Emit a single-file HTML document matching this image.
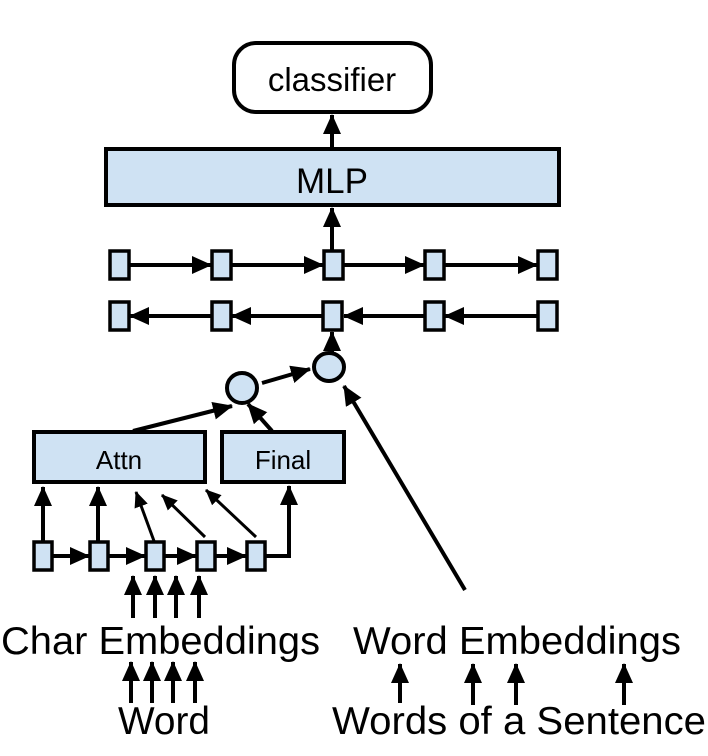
<!DOCTYPE html>
<html><head><style>body{margin:0;background:#fff}svg{display:block}</style></head>
<body>
<svg width="708" height="756" viewBox="0 0 708 756" xmlns="http://www.w3.org/2000/svg" font-family="Liberation Sans, Arial, sans-serif">
<defs>
<marker id="a" markerWidth="20" markerHeight="18" refX="19" refY="9" orient="auto" markerUnits="userSpaceOnUse"><path d="M0,0 L20,9 L0,18 z" fill="#000"/></marker>
<marker id="b" markerWidth="16" markerHeight="14" refX="15" refY="7" orient="auto" markerUnits="userSpaceOnUse"><path d="M0,0 L16,7 L0,14 z" fill="#000"/></marker>
</defs>
<g stroke="#000" stroke-width="4" fill="#cfe2f3">
<rect x="234" y="43" width="197" height="69" rx="22" fill="#fff"/>
<rect x="106" y="149" width="453" height="56"/>
<rect x="34" y="432" width="171" height="50"/>
<rect x="222" y="432" width="122" height="50"/>
<ellipse cx="242" cy="388" rx="15" ry="15"/>
<ellipse cx="329" cy="367" rx="15" ry="14"/>
<g stroke-width="3.5">
<rect x="110" y="251" width="19" height="28"/><rect x="212" y="251" width="19" height="28"/><rect x="324" y="251" width="19" height="28"/><rect x="425" y="251" width="19" height="28"/><rect x="538" y="251" width="19" height="28"/>
<rect x="110" y="302" width="19" height="28"/><rect x="212" y="302" width="19" height="28"/><rect x="323" y="302" width="19" height="28"/><rect x="425" y="302" width="19" height="28"/><rect x="538" y="302" width="19" height="28"/>
<rect x="34" y="542" width="18" height="28"/><rect x="90" y="542" width="18" height="28"/><rect x="146" y="542" width="18" height="28"/><rect x="197" y="542" width="18" height="28"/><rect x="247" y="542" width="18" height="28"/>
</g>
</g>
<g stroke="#000" stroke-width="4" fill="none" marker-end="url(#a)">
<line x1="332" y1="148" x2="332" y2="115"/>
<line x1="332" y1="250" x2="332" y2="208"/>
<line x1="129" y1="265" x2="211" y2="265"/><line x1="231" y1="265" x2="323" y2="265"/><line x1="343" y1="265" x2="424" y2="265"/><line x1="444" y1="265" x2="537" y2="265"/>
<line x1="538" y1="316" x2="445" y2="316"/><line x1="425" y1="316" x2="344" y2="316"/><line x1="323" y1="316" x2="232" y2="316"/><line x1="212" y1="316" x2="130" y2="316"/>
<line x1="332" y1="352" x2="332" y2="332"/>
<line x1="262" y1="383" x2="310" y2="369"/>
<line x1="133" y1="431" x2="232" y2="406"/>
<line x1="272" y1="431" x2="248" y2="404"/>
<line x1="465" y1="590" x2="344" y2="386"/>
<line x1="43" y1="541" x2="43" y2="487"/>
<line x1="98" y1="541" x2="98" y2="487"/>
<g marker-end="url(#b)" stroke-width="3">
<line x1="154" y1="541" x2="136" y2="492"/>
<line x1="205" y1="537" x2="162" y2="495"/>
<line x1="256" y1="537" x2="206" y2="490"/>
</g>
<polyline points="265,556 289,556 289,486"/>
<line x1="52" y1="556" x2="89" y2="556"/><line x1="108" y1="556" x2="145" y2="556"/><line x1="164" y1="556" x2="196" y2="556"/><line x1="215" y1="556" x2="246" y2="556"/>
<line x1="133" y1="618" x2="133" y2="576"/><line x1="155" y1="618" x2="155" y2="576"/><line x1="176" y1="618" x2="176" y2="576"/><line x1="199" y1="618" x2="199" y2="576"/>
<line x1="131" y1="703" x2="131" y2="662"/><line x1="152" y1="703" x2="152" y2="662"/><line x1="173" y1="703" x2="173" y2="662"/><line x1="195" y1="703" x2="195" y2="662"/>
<line x1="400" y1="703" x2="400" y2="664"/><line x1="473" y1="705" x2="473" y2="664"/><line x1="516" y1="705" x2="516" y2="664"/><line x1="624" y1="705" x2="624" y2="664"/>
</g>
<g fill="#000" text-anchor="middle">
<text x="332" y="91" font-size="33">classifier</text>
<text x="332" y="193" font-size="35">MLP</text>
<text x="119" y="469" font-size="26">Attn</text>
<text x="283" y="469" font-size="26">Final</text>
</g>
<g fill="#000" font-size="39">
<text x="1" y="654" textLength="319" lengthAdjust="spacingAndGlyphs">Char Embeddings</text>
<text x="353" y="654" textLength="328" lengthAdjust="spacingAndGlyphs">Word Embeddings</text>
<text x="118" y="734" textLength="92" lengthAdjust="spacingAndGlyphs">Word</text>
<text x="332" y="734" textLength="374" lengthAdjust="spacingAndGlyphs">Words of a Sentence</text>
</g>
</svg>
</body></html>
